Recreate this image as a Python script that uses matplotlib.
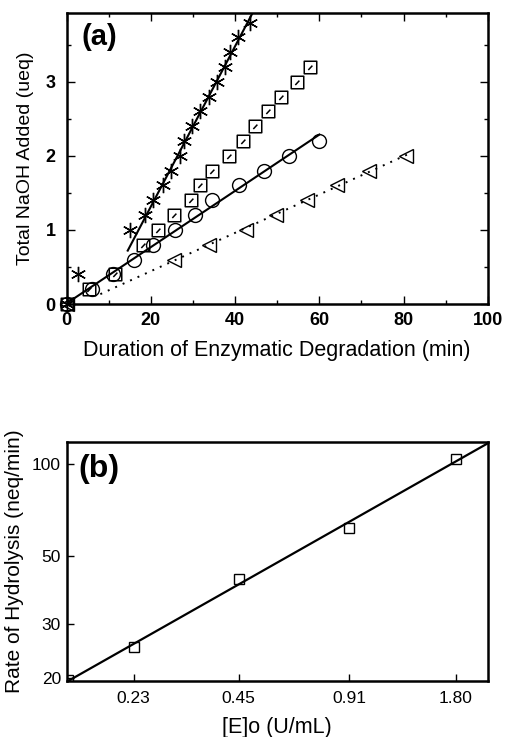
import matplotlib.pyplot as plt
import numpy as np
from matplotlib.path import Path
from matplotlib.ticker import FixedLocator, NullLocator, NullFormatter

plt.rcParams["font.family"] = ["Liberation Sans", "DejaVu Sans"]

# (a) total NaOH added over time, one series per enzyme loading
star_t = [0, 2.8, 15.0, 18.7, 20.6, 22.9, 24.8, 26.8, 27.9, 29.8, 31.7, 33.7, 35.7, 37.5, 38.8, 40.7, 43.5]
star_y = [0, 0.4, 1.0, 1.2, 1.4, 1.6, 1.8, 2.0, 2.2, 2.4, 2.6, 2.8, 3.0, 3.2, 3.4, 3.6, 3.8]

sq_t = [0, 5.2, 11.5, 18.2, 21.8, 25.4, 29.6, 31.7, 34.5, 38.5, 41.8, 44.6, 47.8, 50.8, 54.6, 57.8]
sq_y = [0, 0.2, 0.4, 0.8, 1.0, 1.2, 1.4, 1.6, 1.8, 2.0, 2.2, 2.4, 2.6, 2.8, 3.0, 3.2]

circ_t = [0, 6.0, 11.1, 15.9, 20.6, 25.8, 30.5, 34.5, 40.9, 46.8, 52.8, 59.9]
circ_y = [0, 0.2, 0.4, 0.6, 0.8, 1.0, 1.2, 1.4, 1.6, 1.8, 2.0, 2.2]

tri_t = [0, 25.4, 33.7, 42.5, 49.6, 57.1, 64.3, 71.8, 80.5]
tri_y = [0, 0.6, 0.8, 1.0, 1.2, 1.4, 1.6, 1.8, 2.0]

# (b) hydrolysis rate vs enzyme concentration (log-log)
conc = [0.151, 0.23, 0.45, 0.91, 1.80]
rate = [19.6, 25.2, 42.2, 61.9, 103.9]
conc_ticks = [0.23, 0.45, 0.91, 1.80]
conc_labels = ["0.23", "0.45", "0.91", "1.80"]
rate_ticks = [20, 30, 50, 100]


def linfit(t, y, x0, x1):
    slope, icpt = np.polyfit(t, y, 1)
    xs = np.array([x0, x1])
    return xs, slope * xs + icpt


# open square with a short slash inside
sq_marker = Path(
    [(-1, -1), (1, -1), (1, 1), (-1, 1), (-1, -1), (-0.35, -0.4), (0.3, 0.3)],
    [Path.MOVETO, Path.LINETO, Path.LINETO, Path.LINETO, Path.CLOSEPOLY,
     Path.MOVETO, Path.LINETO],
)

fig = plt.figure(figsize=(5.05, 7.37), dpi=100)

# ---- panel (a)
ax = fig.add_axes([0.132, 0.5875, 0.834, 0.395])

xs, ys = linfit(star_t[3:], star_y[3:], 14.5, 44.0)
ax.plot(xs, ys, color="black", lw=1.5)
xs, ys = linfit(circ_t, circ_y, 0, 60)
ax.plot(xs, ys, color="black", lw=1.5)
xs, ys = linfit(tri_t[1:], tri_y[1:], 8, 81)
ax.plot(xs, ys, color="black", lw=1.4, linestyle=(0, (1, 3.2)))

ax.plot(star_t, star_y, linestyle="none", marker=(6, 2, 0), ms=11,
        mec="black", mew=1.0, clip_on=False)
ax.plot(sq_t, sq_y, linestyle="none", marker=sq_marker, ms=9,
        mfc="none", mec="black", mew=1.1, clip_on=False)
ax.plot(circ_t, circ_y, linestyle="none", marker="o", ms=10,
        mfc="none", mec="black", mew=1.0, clip_on=False)
ax.plot(tri_t, tri_y, linestyle="none", marker="<", ms=10,
        mfc="none", mec="black", mew=1.0, clip_on=False)

ax.set_xlim(0, 100)
ax.set_ylim(0, 3.93)
ax.xaxis.set_major_locator(FixedLocator([0, 20, 40, 60, 80, 100]))
ax.xaxis.set_minor_locator(FixedLocator([10, 30, 50, 70, 90]))
ax.yaxis.set_major_locator(FixedLocator([0, 1, 2, 3]))
ax.yaxis.set_minor_locator(FixedLocator([0.5, 1.5, 2.5, 3.5]))
ax.tick_params(which="both", direction="in", top=True, right=True, width=1.0)
ax.tick_params(which="major", length=6, labelsize=13)
ax.tick_params(which="minor", length=3)
ax.tick_params(axis="x", which="major", pad=6)
ax.tick_params(axis="y", which="major", pad=8)
ax.tick_params(labeltop=False, labelright=False)
for lab in ax.get_xticklabels() + ax.get_yticklabels():
    lab.set_fontweight("bold")
for sp in ax.spines.values():
    sp.set_linewidth(1.8)

ax.set_xlabel("Duration of Enzymatic Degradation (min)", fontsize=15.5, labelpad=8)
ax.set_ylabel("Total NaOH Added (ueq)", fontsize=14, labelpad=8)
ax.text(0.036, 0.965, "(a)", transform=ax.transAxes, fontsize=21,
        fontweight="bold", va="top", ha="left")

# ---- panel (b)
bx = fig.add_axes([0.132, 0.076, 0.834, 0.3247])
bx.set_xscale("log")
bx.set_yscale("log")

b_slope, b_icpt = np.polyfit(np.log10(conc), np.log10(rate), 1)
cx = np.array([0.150, 2.21])
bx.plot(cx, 10 ** (b_slope * np.log10(cx) + b_icpt), color="black", lw=1.6)
bx.plot(conc, rate, linestyle="none", marker="s", ms=7,
        mfc="none", mec="black", mew=1.0)

bx.set_xlim(0.150, 2.21)
bx.set_ylim(19.5, 118.6)
bx.xaxis.set_major_locator(FixedLocator(conc_ticks))
bx.xaxis.set_major_formatter(plt.FixedFormatter(conc_labels))
bx.xaxis.set_minor_locator(NullLocator())
bx.xaxis.set_minor_formatter(NullFormatter())
bx.yaxis.set_major_locator(FixedLocator(rate_ticks))
bx.yaxis.set_major_formatter(plt.FixedFormatter([str(v) for v in rate_ticks]))
bx.yaxis.set_minor_locator(NullLocator())
bx.yaxis.set_minor_formatter(NullFormatter())
bx.tick_params(which="both", direction="in", length=5, width=1.0, labelsize=12.5)
bx.tick_params(axis="x", pad=7)
bx.tick_params(axis="y", pad=4)
for sp in bx.spines.values():
    sp.set_linewidth(1.8)

bx.set_xlabel("[E]o (U/mL)", fontsize=15.5, labelpad=8)
bx.set_ylabel("Rate of Hydrolysis (neq/min)", fontsize=15, labelpad=6)
bx.text(0.027, 0.95, "(b)", transform=bx.transAxes, fontsize=23,
        fontweight="bold", va="top", ha="left")

fig.savefig("out.png", dpi=100)
